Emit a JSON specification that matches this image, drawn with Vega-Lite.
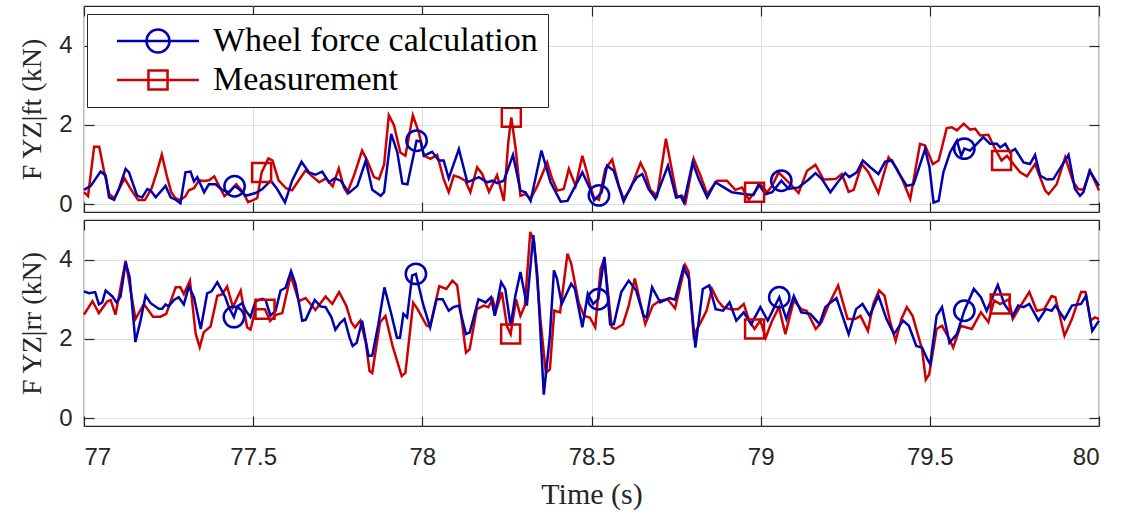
{
"$schema": "https://vega.github.io/schema/vega-lite/v6.json",
"padding": {"left": 18, "top": 4, "right": 12, "bottom": 4},
"background": "white",
"config": {
  "view": {"stroke": "#262626", "strokeWidth": 1.2},
  "axis": {"labelFont": "Liberation Sans", "labelFontSize": 24, "labelColor": "#262626", "titleFont": "Liberation Serif", "titleFontWeight": "normal", "titleColor": "#262626", "gridColor": "#dedede", "gridWidth": 1, "domain": false, "tickColor": "#262626", "tickSize": -10, "tickWidth": 1.2}
},
"datasets": {
"d": [
{"p":"f","s":"M","t":77.0,"v":0.3},{"p":"f","s":"M","t":77.012,"v":0.2},{"p":"f","s":"M","t":77.03,"v":1.45},{"p":"f","s":"M","t":77.045,"v":1.45},{"p":"f","s":"M","t":77.06,"v":0.8},{"p":"f","s":"M","t":77.075,"v":0.25},{"p":"f","s":"M","t":77.09,"v":0.15},{"p":"f","s":"M","t":77.105,"v":0.4},{"p":"f","s":"M","t":77.12,"v":0.65},{"p":"f","s":"M","t":77.14,"v":0.35},{"p":"f","s":"M","t":77.16,"v":0.1},{"p":"f","s":"M","t":77.18,"v":0.1},{"p":"f","s":"M","t":77.2,"v":0.4},{"p":"f","s":"M","t":77.215,"v":0.8},{"p":"f","s":"M","t":77.23,"v":1.25},{"p":"f","s":"M","t":77.245,"v":0.7},{"p":"f","s":"M","t":77.258,"v":0.3},{"p":"f","s":"M","t":77.27,"v":0.15},{"p":"f","s":"M","t":77.285,"v":0.1},{"p":"f","s":"M","t":77.3,"v":0.2},{"p":"f","s":"M","t":77.31,"v":0.35},{"p":"f","s":"M","t":77.325,"v":0.4},{"p":"f","s":"M","t":77.34,"v":0.6},{"p":"f","s":"M","t":77.355,"v":0.58},{"p":"f","s":"M","t":77.37,"v":0.6},{"p":"f","s":"M","t":77.385,"v":0.7},{"p":"f","s":"M","t":77.4,"v":0.45},{"p":"f","s":"M","t":77.415,"v":0.2},{"p":"f","s":"M","t":77.43,"v":0.3},{"p":"f","s":"M","t":77.45,"v":0.5},{"p":"f","s":"M","t":77.47,"v":0.3},{"p":"f","s":"M","t":77.485,"v":0.05},{"p":"f","s":"M","t":77.5,"v":0.1},{"p":"f","s":"M","t":77.512,"v":0.15},{"p":"f","s":"M","t":77.525,"v":0.8,"m":1},{"p":"f","s":"M","t":77.545,"v":1.15},{"p":"f","s":"M","t":77.557,"v":1.1},{"p":"f","s":"M","t":77.575,"v":0.6},{"p":"f","s":"M","t":77.597,"v":0.4},{"p":"f","s":"M","t":77.615,"v":0.35},{"p":"f","s":"M","t":77.635,"v":0.6},{"p":"f","s":"M","t":77.655,"v":0.85},{"p":"f","s":"M","t":77.675,"v":0.7},{"p":"f","s":"M","t":77.695,"v":0.55},{"p":"f","s":"M","t":77.715,"v":0.65},{"p":"f","s":"M","t":77.735,"v":0.45},{"p":"f","s":"M","t":77.753,"v":0.9},{"p":"f","s":"M","t":77.768,"v":0.42},{"p":"f","s":"M","t":77.778,"v":0.28},{"p":"f","s":"M","t":77.798,"v":0.72},{"p":"f","s":"M","t":77.822,"v":1.35},{"p":"f","s":"M","t":77.837,"v":1.1},{"p":"f","s":"M","t":77.857,"v":0.68},{"p":"f","s":"M","t":77.872,"v":0.63},{"p":"f","s":"M","t":77.887,"v":1.0},{"p":"f","s":"M","t":77.901,"v":2.24},{"p":"f","s":"M","t":77.916,"v":2.0},{"p":"f","s":"M","t":77.935,"v":1.3},{"p":"f","s":"M","t":77.95,"v":1.22},{"p":"f","s":"M","t":77.972,"v":2.24},{"p":"f","s":"M","t":77.99,"v":1.8},{"p":"f","s":"M","t":78.004,"v":1.22},{"p":"f","s":"M","t":78.024,"v":1.14},{"p":"f","s":"M","t":78.044,"v":1.24},{"p":"f","s":"M","t":78.063,"v":0.63},{"p":"f","s":"M","t":78.078,"v":0.3},{"p":"f","s":"M","t":78.093,"v":0.72},{"p":"f","s":"M","t":78.108,"v":0.68},{"p":"f","s":"M","t":78.127,"v":0.59},{"p":"f","s":"M","t":78.142,"v":0.3},{"p":"f","s":"M","t":78.162,"v":0.93},{"p":"f","s":"M","t":78.177,"v":0.76},{"p":"f","s":"M","t":78.197,"v":0.31},{"p":"f","s":"M","t":78.221,"v":0.73},{"p":"f","s":"M","t":78.241,"v":0.08},{"p":"f","s":"M","t":78.254,"v":1.56},{"p":"f","s":"M","t":78.263,"v":2.19,"m":1},{"p":"f","s":"M","t":78.276,"v":1.39},{"p":"f","s":"M","t":78.29,"v":0.21},{"p":"f","s":"M","t":78.305,"v":0.25},{"p":"f","s":"M","t":78.32,"v":0.13},{"p":"f","s":"M","t":78.34,"v":0.46},{"p":"f","s":"M","t":78.369,"v":1.05},{"p":"f","s":"M","t":78.384,"v":0.63},{"p":"f","s":"M","t":78.399,"v":0.34},{"p":"f","s":"M","t":78.418,"v":0.38},{"p":"f","s":"M","t":78.433,"v":0.89},{"p":"f","s":"M","t":78.453,"v":0.46},{"p":"f","s":"M","t":78.473,"v":1.22},{"p":"f","s":"M","t":78.488,"v":0.76},{"p":"f","s":"M","t":78.495,"v":0.5},{"p":"f","s":"M","t":78.507,"v":0.17},{"p":"f","s":"M","t":78.522,"v":0.11},{"p":"f","s":"M","t":78.541,"v":0.89},{"p":"f","s":"M","t":78.561,"v":1.12},{"p":"f","s":"M","t":78.581,"v":0.46},{"p":"f","s":"M","t":78.595,"v":0.13},{"p":"f","s":"M","t":78.615,"v":0.38},{"p":"f","s":"M","t":78.645,"v":1.04},{"p":"f","s":"M","t":78.659,"v":0.8},{"p":"f","s":"M","t":78.674,"v":0.36},{"p":"f","s":"M","t":78.694,"v":0.21},{"p":"f","s":"M","t":78.72,"v":1.65},{"p":"f","s":"M","t":78.736,"v":0.93},{"p":"f","s":"M","t":78.753,"v":0.17},{"p":"f","s":"M","t":78.768,"v":0.21},{"p":"f","s":"M","t":78.778,"v":0.04},{"p":"f","s":"M","t":78.802,"v":1.14},{"p":"f","s":"M","t":78.822,"v":0.72},{"p":"f","s":"M","t":78.842,"v":0.25},{"p":"f","s":"M","t":78.871,"v":0.59},{"p":"f","s":"M","t":78.9,"v":0.59},{"p":"f","s":"M","t":78.925,"v":0.36},{"p":"f","s":"M","t":78.945,"v":0.42},{"p":"f","s":"M","t":78.965,"v":0.11},{"p":"f","s":"M","t":78.982,"v":0.3,"m":1},{"p":"f","s":"M","t":78.999,"v":0.5},{"p":"f","s":"M","t":79.019,"v":0.3},{"p":"f","s":"M","t":79.034,"v":0.46},{"p":"f","s":"M","t":79.053,"v":0.8},{"p":"f","s":"M","t":79.073,"v":0.63},{"p":"f","s":"M","t":79.093,"v":0.46},{"p":"f","s":"M","t":79.112,"v":0.28},{"p":"f","s":"M","t":79.137,"v":0.84},{"p":"f","s":"M","t":79.162,"v":0.99},{"p":"f","s":"M","t":79.186,"v":0.62},{"p":"f","s":"M","t":79.221,"v":0.63},{"p":"f","s":"M","t":79.24,"v":0.76},{"p":"f","s":"M","t":79.26,"v":0.31},{"p":"f","s":"M","t":79.275,"v":0.36},{"p":"f","s":"M","t":79.299,"v":1.01},{"p":"f","s":"M","t":79.319,"v":0.8},{"p":"f","s":"M","t":79.348,"v":0.28},{"p":"f","s":"M","t":79.378,"v":1.18},{"p":"f","s":"M","t":79.403,"v":0.89},{"p":"f","s":"M","t":79.422,"v":0.55},{"p":"f","s":"M","t":79.442,"v":0.13},{"p":"f","s":"M","t":79.471,"v":1.52},{"p":"f","s":"M","t":79.486,"v":1.48},{"p":"f","s":"M","t":79.509,"v":1.01},{"p":"f","s":"M","t":79.526,"v":1.1},{"p":"f","s":"M","t":79.55,"v":1.92},{"p":"f","s":"M","t":79.565,"v":1.94},{"p":"f","s":"M","t":79.58,"v":1.86},{"p":"f","s":"M","t":79.6,"v":2.03},{"p":"f","s":"M","t":79.619,"v":1.88},{"p":"f","s":"M","t":79.634,"v":1.9},{"p":"f","s":"M","t":79.649,"v":1.73},{"p":"f","s":"M","t":79.673,"v":1.75},{"p":"f","s":"M","t":79.693,"v":1.39},{"p":"f","s":"M","t":79.712,"v":1.1,"m":1},{"p":"f","s":"M","t":79.728,"v":1.22},{"p":"f","s":"M","t":79.747,"v":1.01},{"p":"f","s":"M","t":79.767,"v":0.8},{"p":"f","s":"M","t":79.787,"v":0.7},{"p":"f","s":"M","t":79.811,"v":1.01},{"p":"f","s":"M","t":79.841,"v":0.34},{"p":"f","s":"M","t":79.851,"v":0.25},{"p":"f","s":"M","t":79.875,"v":0.5},{"p":"f","s":"M","t":79.9,"v":1.18},{"p":"f","s":"M","t":79.924,"v":0.55},{"p":"f","s":"M","t":79.939,"v":0.38},{"p":"f","s":"M","t":79.954,"v":0.36},{"p":"f","s":"M","t":79.974,"v":0.84},{"p":"f","s":"M","t":80.0,"v":0.34},
{"p":"f","s":"W","t":77.0,"v":0.36},{"p":"f","s":"W","t":77.02,"v":0.46},{"p":"f","s":"W","t":77.049,"v":0.82},{"p":"f","s":"W","t":77.064,"v":0.72},{"p":"f","s":"W","t":77.074,"v":0.17},{"p":"f","s":"W","t":77.089,"v":0.11},{"p":"f","s":"W","t":77.103,"v":0.38},{"p":"f","s":"W","t":77.123,"v":0.89},{"p":"f","s":"W","t":77.133,"v":0.8},{"p":"f","s":"W","t":77.157,"v":0.21},{"p":"f","s":"W","t":77.172,"v":0.17},{"p":"f","s":"W","t":77.187,"v":0.38},{"p":"f","s":"W","t":77.197,"v":0.34},{"p":"f","s":"W","t":77.212,"v":0.17},{"p":"f","s":"W","t":77.241,"v":0.46},{"p":"f","s":"W","t":77.256,"v":0.17},{"p":"f","s":"W","t":77.271,"v":0.11},{"p":"f","s":"W","t":77.285,"v":0.02},{"p":"f","s":"W","t":77.3,"v":0.8},{"p":"f","s":"W","t":77.315,"v":0.82},{"p":"f","s":"W","t":77.325,"v":0.57},{"p":"f","s":"W","t":77.335,"v":0.68},{"p":"f","s":"W","t":77.355,"v":0.3},{"p":"f","s":"W","t":77.369,"v":0.5},{"p":"f","s":"W","t":77.389,"v":0.5},{"p":"f","s":"W","t":77.408,"v":0.36},{"p":"f","s":"W","t":77.428,"v":0.3},{"p":"f","s":"W","t":77.445,"v":0.45,"m":1},{"p":"f","s":"W","t":77.458,"v":0.38},{"p":"f","s":"W","t":77.478,"v":0.21},{"p":"f","s":"W","t":77.507,"v":0.28},{"p":"f","s":"W","t":77.527,"v":0.38},{"p":"f","s":"W","t":77.552,"v":0.59},{"p":"f","s":"W","t":77.571,"v":0.38},{"p":"f","s":"W","t":77.594,"v":0.04},{"p":"f","s":"W","t":77.615,"v":0.59},{"p":"f","s":"W","t":77.643,"v":1.07},{"p":"f","s":"W","t":77.665,"v":0.8},{"p":"f","s":"W","t":77.684,"v":0.74},{"p":"f","s":"W","t":77.704,"v":0.82},{"p":"f","s":"W","t":77.724,"v":0.55},{"p":"f","s":"W","t":77.741,"v":0.65},{"p":"f","s":"W","t":77.759,"v":0.59},{"p":"f","s":"W","t":77.783,"v":0.28},{"p":"f","s":"W","t":77.808,"v":0.46},{"p":"f","s":"W","t":77.833,"v":1.1},{"p":"f","s":"W","t":77.852,"v":0.36},{"p":"f","s":"W","t":77.877,"v":0.21},{"p":"f","s":"W","t":77.887,"v":0.3},{"p":"f","s":"W","t":77.908,"v":1.77},{"p":"f","s":"W","t":77.926,"v":1.31},{"p":"f","s":"W","t":77.941,"v":0.52},{"p":"f","s":"W","t":77.956,"v":0.5},{"p":"f","s":"W","t":77.983,"v":1.6,"m":1},{"p":"f","s":"W","t":77.995,"v":1.58},{"p":"f","s":"W","t":78.005,"v":1.22},{"p":"f","s":"W","t":78.029,"v":1.32},{"p":"f","s":"W","t":78.049,"v":1.1},{"p":"f","s":"W","t":78.063,"v":1.1},{"p":"f","s":"W","t":78.078,"v":0.65},{"p":"f","s":"W","t":78.108,"v":1.39},{"p":"f","s":"W","t":78.133,"v":0.55},{"p":"f","s":"W","t":78.167,"v":0.68},{"p":"f","s":"W","t":78.192,"v":0.55},{"p":"f","s":"W","t":78.207,"v":0.59},{"p":"f","s":"W","t":78.221,"v":0.53},{"p":"f","s":"W","t":78.241,"v":0.59},{"p":"f","s":"W","t":78.268,"v":1.24},{"p":"f","s":"W","t":78.29,"v":0.34},{"p":"f","s":"W","t":78.305,"v":0.3},{"p":"f","s":"W","t":78.32,"v":0.08},{"p":"f","s":"W","t":78.352,"v":1.35},{"p":"f","s":"W","t":78.379,"v":0.55},{"p":"f","s":"W","t":78.409,"v":0.06},{"p":"f","s":"W","t":78.429,"v":0.08},{"p":"f","s":"W","t":78.473,"v":0.8},{"p":"f","s":"W","t":78.495,"v":0.4},{"p":"f","s":"W","t":78.508,"v":0.1},{"p":"f","s":"W","t":78.522,"v":0.22,"m":1},{"p":"f","s":"W","t":78.53,"v":0.3},{"p":"f","s":"W","t":78.546,"v":0.97},{"p":"f","s":"W","t":78.566,"v":0.84},{"p":"f","s":"W","t":78.595,"v":0.06},{"p":"f","s":"W","t":78.62,"v":0.5},{"p":"f","s":"W","t":78.635,"v":0.68},{"p":"f","s":"W","t":78.65,"v":0.76},{"p":"f","s":"W","t":78.669,"v":0.38},{"p":"f","s":"W","t":78.689,"v":0.14},{"p":"f","s":"W","t":78.726,"v":0.97},{"p":"f","s":"W","t":78.75,"v":0.17},{"p":"f","s":"W","t":78.763,"v":0.21},{"p":"f","s":"W","t":78.773,"v":0.04},{"p":"f","s":"W","t":78.799,"v":1.05},{"p":"f","s":"W","t":78.817,"v":0.63},{"p":"f","s":"W","t":78.842,"v":0.17},{"p":"f","s":"W","t":78.866,"v":0.55},{"p":"f","s":"W","t":78.891,"v":0.42},{"p":"f","s":"W","t":78.915,"v":0.3},{"p":"f","s":"W","t":78.955,"v":0.25},{"p":"f","s":"W","t":78.979,"v":0.23},{"p":"f","s":"W","t":78.994,"v":0.5},{"p":"f","s":"W","t":79.014,"v":0.25},{"p":"f","s":"W","t":79.034,"v":0.3},{"p":"f","s":"W","t":79.061,"v":0.59,"m":1},{"p":"f","s":"W","t":79.083,"v":0.38},{"p":"f","s":"W","t":79.112,"v":0.42},{"p":"f","s":"W","t":79.142,"v":0.62},{"p":"f","s":"W","t":79.162,"v":0.78},{"p":"f","s":"W","t":79.181,"v":0.63},{"p":"f","s":"W","t":79.206,"v":0.3},{"p":"f","s":"W","t":79.231,"v":0.59},{"p":"f","s":"W","t":79.25,"v":0.78},{"p":"f","s":"W","t":79.262,"v":0.68},{"p":"f","s":"W","t":79.284,"v":0.8},{"p":"f","s":"W","t":79.302,"v":1.1},{"p":"f","s":"W","t":79.324,"v":0.93},{"p":"f","s":"W","t":79.348,"v":0.76},{"p":"f","s":"W","t":79.368,"v":1.07},{"p":"f","s":"W","t":79.388,"v":1.1},{"p":"f","s":"W","t":79.407,"v":0.8},{"p":"f","s":"W","t":79.432,"v":0.46},{"p":"f","s":"W","t":79.452,"v":0.5},{"p":"f","s":"W","t":79.486,"v":1.39},{"p":"f","s":"W","t":79.499,"v":0.93},{"p":"f","s":"W","t":79.511,"v":0.04},{"p":"f","s":"W","t":79.526,"v":0.08},{"p":"f","s":"W","t":79.54,"v":0.8},{"p":"f","s":"W","t":79.56,"v":1.31},{"p":"f","s":"W","t":79.58,"v":1.6},{"p":"f","s":"W","t":79.593,"v":1.22},{"p":"f","s":"W","t":79.602,"v":1.4,"m":1},{"p":"f","s":"W","t":79.619,"v":1.35},{"p":"f","s":"W","t":79.639,"v":1.52},{"p":"f","s":"W","t":79.658,"v":1.69},{"p":"f","s":"W","t":79.678,"v":1.52},{"p":"f","s":"W","t":79.698,"v":1.52},{"p":"f","s":"W","t":79.708,"v":1.43},{"p":"f","s":"W","t":79.723,"v":1.52},{"p":"f","s":"W","t":79.737,"v":1.31},{"p":"f","s":"W","t":79.752,"v":1.39},{"p":"f","s":"W","t":79.777,"v":1.05},{"p":"f","s":"W","t":79.796,"v":1.01},{"p":"f","s":"W","t":79.811,"v":1.24},{"p":"f","s":"W","t":79.826,"v":0.72},{"p":"f","s":"W","t":79.846,"v":0.62},{"p":"f","s":"W","t":79.865,"v":0.63},{"p":"f","s":"W","t":79.89,"v":0.97},{"p":"f","s":"W","t":79.91,"v":1.24},{"p":"f","s":"W","t":79.929,"v":0.38},{"p":"f","s":"W","t":79.944,"v":0.21},{"p":"f","s":"W","t":79.954,"v":0.3},{"p":"f","s":"W","t":79.972,"v":0.84},{"p":"f","s":"W","t":80.0,"v":0.46},
{"p":"r","s":"M","t":77.0,"v":2.61},{"p":"r","s":"M","t":77.025,"v":2.95},{"p":"r","s":"M","t":77.044,"v":2.65},{"p":"r","s":"M","t":77.069,"v":2.95},{"p":"r","s":"M","t":77.079,"v":2.98},{"p":"r","s":"M","t":77.093,"v":2.61},{"p":"r","s":"M","t":77.123,"v":3.97},{"p":"r","s":"M","t":77.152,"v":2.5},{"p":"r","s":"M","t":77.177,"v":2.88},{"p":"r","s":"M","t":77.204,"v":2.56},{"p":"r","s":"M","t":77.226,"v":2.56},{"p":"r","s":"M","t":77.243,"v":2.63},{"p":"r","s":"M","t":77.271,"v":3.3},{"p":"r","s":"M","t":77.285,"v":3.3},{"p":"r","s":"M","t":77.295,"v":3.13},{"p":"r","s":"M","t":77.313,"v":3.47},{"p":"r","s":"M","t":77.33,"v":2.13},{"p":"r","s":"M","t":77.342,"v":1.79},{"p":"r","s":"M","t":77.354,"v":2.17},{"p":"r","s":"M","t":77.374,"v":2.31},{"p":"r","s":"M","t":77.394,"v":3.09},{"p":"r","s":"M","t":77.408,"v":3.12},{"p":"r","s":"M","t":77.423,"v":3.32},{"p":"r","s":"M","t":77.44,"v":2.8},{"p":"r","s":"M","t":77.463,"v":3.22},{"p":"r","s":"M","t":77.482,"v":2.29},{"p":"r","s":"M","t":77.492,"v":2.23},{"p":"r","s":"M","t":77.507,"v":2.75},{"p":"r","s":"M","t":77.535,"v":2.75,"m":1},{"p":"r","s":"M","t":77.55,"v":2.45},{"p":"r","s":"M","t":77.566,"v":2.6},{"p":"r","s":"M","t":77.586,"v":2.65},{"p":"r","s":"M","t":77.611,"v":3.6},{"p":"r","s":"M","t":77.635,"v":2.95},{"p":"r","s":"M","t":77.655,"v":3.03},{"p":"r","s":"M","t":77.684,"v":2.73},{"p":"r","s":"M","t":77.714,"v":3.07},{"p":"r","s":"M","t":77.734,"v":2.88},{"p":"r","s":"M","t":77.754,"v":3.18},{"p":"r","s":"M","t":77.775,"v":2.84},{"p":"r","s":"M","t":77.79,"v":2.42},{"p":"r","s":"M","t":77.801,"v":2.29},{"p":"r","s":"M","t":77.817,"v":2.46},{"p":"r","s":"M","t":77.833,"v":1.9},{"p":"r","s":"M","t":77.844,"v":1.19},{"p":"r","s":"M","t":77.852,"v":1.14},{"p":"r","s":"M","t":77.875,"v":2.42},{"p":"r","s":"M","t":77.891,"v":2.58},{"p":"r","s":"M","t":77.912,"v":1.82},{"p":"r","s":"M","t":77.939,"v":1.06},{"p":"r","s":"M","t":77.95,"v":1.14},{"p":"r","s":"M","t":77.973,"v":2.91},{"p":"r","s":"M","t":77.986,"v":2.75},{"p":"r","s":"M","t":78.013,"v":2.33},{"p":"r","s":"M","t":78.023,"v":2.31},{"p":"r","s":"M","t":78.05,"v":3.33},{"p":"r","s":"M","t":78.071,"v":3.26},{"p":"r","s":"M","t":78.089,"v":3.47},{"p":"r","s":"M","t":78.103,"v":3.35},{"p":"r","s":"M","t":78.129,"v":1.65},{"p":"r","s":"M","t":78.14,"v":1.74},{"p":"r","s":"M","t":78.161,"v":2.75},{"p":"r","s":"M","t":78.182,"v":2.84},{"p":"r","s":"M","t":78.195,"v":2.8},{"p":"r","s":"M","t":78.208,"v":3.0},{"p":"r","s":"M","t":78.218,"v":2.71},{"p":"r","s":"M","t":78.235,"v":3.18},{"p":"r","s":"M","t":78.25,"v":2.33},{"p":"r","s":"M","t":78.261,"v":2.12,"m":1},{"p":"r","s":"M","t":78.277,"v":3.0},{"p":"r","s":"M","t":78.29,"v":2.58},{"p":"r","s":"M","t":78.303,"v":2.84},{"p":"r","s":"M","t":78.319,"v":4.7},{"p":"r","s":"M","t":78.33,"v":4.45},{"p":"r","s":"M","t":78.349,"v":2.5},{"p":"r","s":"M","t":78.365,"v":1.14},{"p":"r","s":"M","t":78.377,"v":1.23},{"p":"r","s":"M","t":78.39,"v":2.71},{"p":"r","s":"M","t":78.407,"v":2.67},{"p":"r","s":"M","t":78.429,"v":4.15},{"p":"r","s":"M","t":78.44,"v":3.9},{"p":"r","s":"M","t":78.462,"v":2.92},{"p":"r","s":"M","t":78.478,"v":2.58},{"p":"r","s":"M","t":78.495,"v":2.54},{"p":"r","s":"M","t":78.511,"v":2.29},{"p":"r","s":"M","t":78.527,"v":3.77},{"p":"r","s":"M","t":78.538,"v":4.03},{"p":"r","s":"M","t":78.56,"v":2.29},{"p":"r","s":"M","t":78.571,"v":2.25},{"p":"r","s":"M","t":78.593,"v":2.37},{"p":"r","s":"M","t":78.61,"v":2.84},{"p":"r","s":"M","t":78.628,"v":3.52},{"p":"r","s":"M","t":78.659,"v":2.37},{"p":"r","s":"M","t":78.681,"v":2.84},{"p":"r","s":"M","t":78.703,"v":2.97},{"p":"r","s":"M","t":78.725,"v":3.0},{"p":"r","s":"M","t":78.747,"v":2.77},{"p":"r","s":"M","t":78.777,"v":3.86},{"p":"r","s":"M","t":78.787,"v":3.69},{"p":"r","s":"M","t":78.802,"v":2.08},{"p":"r","s":"M","t":78.823,"v":2.42},{"p":"r","s":"M","t":78.84,"v":2.71},{"p":"r","s":"M","t":78.856,"v":3.26},{"p":"r","s":"M","t":78.873,"v":2.97},{"p":"r","s":"M","t":78.889,"v":2.8},{"p":"r","s":"M","t":78.911,"v":2.75},{"p":"r","s":"M","t":78.933,"v":2.75},{"p":"r","s":"M","t":78.95,"v":2.88},{"p":"r","s":"M","t":78.966,"v":2.46},{"p":"r","s":"M","t":78.982,"v":2.25,"m":1},{"p":"r","s":"M","t":78.999,"v":2.46},{"p":"r","s":"M","t":79.015,"v":2.03},{"p":"r","s":"M","t":79.032,"v":2.42},{"p":"r","s":"M","t":79.054,"v":2.8},{"p":"r","s":"M","t":79.073,"v":2.12},{"p":"r","s":"M","t":79.098,"v":2.97},{"p":"r","s":"M","t":79.12,"v":2.75},{"p":"r","s":"M","t":79.136,"v":2.71},{"p":"r","s":"M","t":79.163,"v":2.25},{"p":"r","s":"M","t":79.18,"v":2.42},{"p":"r","s":"M","t":79.202,"v":2.88},{"p":"r","s":"M","t":79.229,"v":3.35},{"p":"r","s":"M","t":79.257,"v":2.5},{"p":"r","s":"M","t":79.279,"v":2.5},{"p":"r","s":"M","t":79.295,"v":2.58},{"p":"r","s":"M","t":79.317,"v":2.2},{"p":"r","s":"M","t":79.333,"v":2.88},{"p":"r","s":"M","t":79.35,"v":3.22},{"p":"r","s":"M","t":79.366,"v":3.09},{"p":"r","s":"M","t":79.383,"v":2.42},{"p":"r","s":"M","t":79.399,"v":1.95},{"p":"r","s":"M","t":79.416,"v":2.5},{"p":"r","s":"M","t":79.432,"v":2.8},{"p":"r","s":"M","t":79.449,"v":2.58},{"p":"r","s":"M","t":79.477,"v":1.74},{"p":"r","s":"M","t":79.488,"v":0.97},{"p":"r","s":"M","t":79.498,"v":1.1},{"p":"r","s":"M","t":79.52,"v":2.25},{"p":"r","s":"M","t":79.536,"v":2.33},{"p":"r","s":"M","t":79.558,"v":1.99},{"p":"r","s":"M","t":79.569,"v":1.78},{"p":"r","s":"M","t":79.591,"v":2.33},{"p":"r","s":"M","t":79.624,"v":2.25},{"p":"r","s":"M","t":79.651,"v":2.67},{"p":"r","s":"M","t":79.673,"v":2.42},{"p":"r","s":"M","t":79.69,"v":2.97},{"p":"r","s":"M","t":79.708,"v":2.88,"m":1},{"p":"r","s":"M","t":79.734,"v":3.0},{"p":"r","s":"M","t":79.745,"v":2.5},{"p":"r","s":"M","t":79.766,"v":2.8},{"p":"r","s":"M","t":79.794,"v":3.18},{"p":"r","s":"M","t":79.816,"v":2.71},{"p":"r","s":"M","t":79.838,"v":2.75},{"p":"r","s":"M","t":79.86,"v":3.08},{"p":"r","s":"M","t":79.871,"v":3.05},{"p":"r","s":"M","t":79.898,"v":2.08},{"p":"r","s":"M","t":79.92,"v":2.5},{"p":"r","s":"M","t":79.947,"v":3.18},{"p":"r","s":"M","t":79.96,"v":3.18},{"p":"r","s":"M","t":79.975,"v":2.46},{"p":"r","s":"M","t":79.988,"v":2.54},{"p":"r","s":"M","t":80.0,"v":2.5},
{"p":"r","s":"W","t":77.0,"v":3.2},{"p":"r","s":"W","t":77.015,"v":3.15},{"p":"r","s":"W","t":77.033,"v":3.18},{"p":"r","s":"W","t":77.044,"v":2.87},{"p":"r","s":"W","t":77.054,"v":2.92},{"p":"r","s":"W","t":77.064,"v":3.22},{"p":"r","s":"W","t":77.084,"v":3.07},{"p":"r","s":"W","t":77.096,"v":2.92},{"p":"r","s":"W","t":77.108,"v":3.07},{"p":"r","s":"W","t":77.123,"v":3.93},{"p":"r","s":"W","t":77.135,"v":3.55},{"p":"r","s":"W","t":77.152,"v":1.92},{"p":"r","s":"W","t":77.167,"v":2.46},{"p":"r","s":"W","t":77.182,"v":3.09},{"p":"r","s":"W","t":77.197,"v":2.9},{"p":"r","s":"W","t":77.221,"v":2.76},{"p":"r","s":"W","t":77.231,"v":2.76},{"p":"r","s":"W","t":77.241,"v":2.87},{"p":"r","s":"W","t":77.25,"v":2.82},{"p":"r","s":"W","t":77.266,"v":2.98},{"p":"r","s":"W","t":77.28,"v":3.05},{"p":"r","s":"W","t":77.295,"v":2.87},{"p":"r","s":"W","t":77.31,"v":3.32},{"p":"r","s":"W","t":77.325,"v":3.05},{"p":"r","s":"W","t":77.345,"v":2.25},{"p":"r","s":"W","t":77.364,"v":3.15},{"p":"r","s":"W","t":77.377,"v":3.2},{"p":"r","s":"W","t":77.394,"v":3.43},{"p":"r","s":"W","t":77.418,"v":3.05},{"p":"r","s":"W","t":77.428,"v":2.8},{"p":"r","s":"W","t":77.443,"v":2.55,"m":1},{"p":"r","s":"W","t":77.453,"v":2.82},{"p":"r","s":"W","t":77.468,"v":2.9},{"p":"r","s":"W","t":77.478,"v":2.71},{"p":"r","s":"W","t":77.492,"v":2.55},{"p":"r","s":"W","t":77.507,"v":2.95},{"p":"r","s":"W","t":77.527,"v":3.01},{"p":"r","s":"W","t":77.537,"v":2.97},{"p":"r","s":"W","t":77.551,"v":2.59},{"p":"r","s":"W","t":77.566,"v":2.7},{"p":"r","s":"W","t":77.581,"v":3.22},{"p":"r","s":"W","t":77.596,"v":3.29},{"p":"r","s":"W","t":77.612,"v":3.71},{"p":"r","s":"W","t":77.625,"v":3.39},{"p":"r","s":"W","t":77.645,"v":2.46},{"p":"r","s":"W","t":77.655,"v":2.48},{"p":"r","s":"W","t":77.682,"v":2.98},{"p":"r","s":"W","t":77.699,"v":2.82},{"p":"r","s":"W","t":77.714,"v":2.8},{"p":"r","s":"W","t":77.731,"v":2.55},{"p":"r","s":"W","t":77.743,"v":2.23},{"p":"r","s":"W","t":77.757,"v":2.4},{"p":"r","s":"W","t":77.77,"v":2.5},{"p":"r","s":"W","t":77.785,"v":2.03},{"p":"r","s":"W","t":77.794,"v":1.82},{"p":"r","s":"W","t":77.806,"v":1.9},{"p":"r","s":"W","t":77.822,"v":2.46},{"p":"r","s":"W","t":77.841,"v":1.57},{"p":"r","s":"W","t":77.852,"v":1.58},{"p":"r","s":"W","t":77.87,"v":2.37},{"p":"r","s":"W","t":77.888,"v":3.3},{"p":"r","s":"W","t":77.907,"v":2.67},{"p":"r","s":"W","t":77.925,"v":2.03},{"p":"r","s":"W","t":77.934,"v":2.03},{"p":"r","s":"W","t":77.944,"v":2.63},{"p":"r","s":"W","t":77.955,"v":2.54},{"p":"r","s":"W","t":77.97,"v":3.6},{"p":"r","s":"W","t":77.981,"v":3.64,"m":1},{"p":"r","s":"W","t":78.002,"v":2.88},{"p":"r","s":"W","t":78.023,"v":2.29},{"p":"r","s":"W","t":78.042,"v":3.0},{"p":"r","s":"W","t":78.06,"v":3.0},{"p":"r","s":"W","t":78.078,"v":2.71},{"p":"r","s":"W","t":78.092,"v":2.8},{"p":"r","s":"W","t":78.108,"v":2.84},{"p":"r","s":"W","t":78.129,"v":2.12},{"p":"r","s":"W","t":78.14,"v":2.16},{"p":"r","s":"W","t":78.166,"v":3.0},{"p":"r","s":"W","t":78.187,"v":2.92},{"p":"r","s":"W","t":78.203,"v":3.05},{"p":"r","s":"W","t":78.214,"v":2.58},{"p":"r","s":"W","t":78.233,"v":3.43},{"p":"r","s":"W","t":78.245,"v":3.26},{"p":"r","s":"W","t":78.261,"v":2.33},{"p":"r","s":"W","t":78.275,"v":3.09},{"p":"r","s":"W","t":78.29,"v":3.69},{"p":"r","s":"W","t":78.309,"v":2.84},{"p":"r","s":"W","t":78.328,"v":4.62},{"p":"r","s":"W","t":78.34,"v":3.6},{"p":"r","s":"W","t":78.359,"v":0.59},{"p":"r","s":"W","t":78.377,"v":2.08},{"p":"r","s":"W","t":78.389,"v":3.73},{"p":"r","s":"W","t":78.398,"v":3.52},{"p":"r","s":"W","t":78.412,"v":2.88},{"p":"r","s":"W","t":78.44,"v":3.39},{"p":"r","s":"W","t":78.451,"v":3.26},{"p":"r","s":"W","t":78.473,"v":2.29},{"p":"r","s":"W","t":78.489,"v":3.14},{"p":"r","s":"W","t":78.505,"v":2.88},{"p":"r","s":"W","t":78.52,"v":3.0,"m":1},{"p":"r","s":"W","t":78.538,"v":4.07},{"p":"r","s":"W","t":78.555,"v":2.37},{"p":"r","s":"W","t":78.566,"v":2.37},{"p":"r","s":"W","t":78.588,"v":3.18},{"p":"r","s":"W","t":78.61,"v":3.47},{"p":"r","s":"W","t":78.632,"v":3.22},{"p":"r","s":"W","t":78.654,"v":2.58},{"p":"r","s":"W","t":78.663,"v":2.54},{"p":"r","s":"W","t":78.679,"v":3.3},{"p":"r","s":"W","t":78.703,"v":2.92},{"p":"r","s":"W","t":78.73,"v":3.03},{"p":"r","s":"W","t":78.747,"v":2.99},{"p":"r","s":"W","t":78.772,"v":3.81},{"p":"r","s":"W","t":78.788,"v":3.52},{"p":"r","s":"W","t":78.807,"v":1.78},{"p":"r","s":"W","t":78.829,"v":3.26},{"p":"r","s":"W","t":78.848,"v":3.35},{"p":"r","s":"W","t":78.867,"v":2.75},{"p":"r","s":"W","t":78.889,"v":2.71},{"p":"r","s":"W","t":78.908,"v":2.92},{"p":"r","s":"W","t":78.928,"v":2.46},{"p":"r","s":"W","t":78.95,"v":2.67},{"p":"r","s":"W","t":78.972,"v":2.37},{"p":"r","s":"W","t":78.999,"v":2.8},{"p":"r","s":"W","t":79.021,"v":2.46},{"p":"r","s":"W","t":79.055,"v":3.05,"m":1},{"p":"r","s":"W","t":79.076,"v":2.5},{"p":"r","s":"W","t":79.098,"v":3.08},{"p":"r","s":"W","t":79.12,"v":2.67},{"p":"r","s":"W","t":79.147,"v":2.63},{"p":"r","s":"W","t":79.174,"v":2.37},{"p":"r","s":"W","t":79.191,"v":2.8},{"p":"r","s":"W","t":79.207,"v":2.92},{"p":"r","s":"W","t":79.224,"v":3.03},{"p":"r","s":"W","t":79.26,"v":2.12},{"p":"r","s":"W","t":79.282,"v":2.75},{"p":"r","s":"W","t":79.301,"v":2.88},{"p":"r","s":"W","t":79.322,"v":2.58},{"p":"r","s":"W","t":79.348,"v":3.09},{"p":"r","s":"W","t":79.372,"v":2.5},{"p":"r","s":"W","t":79.394,"v":2.12},{"p":"r","s":"W","t":79.421,"v":2.46},{"p":"r","s":"W","t":79.438,"v":2.33},{"p":"r","s":"W","t":79.46,"v":1.82},{"p":"r","s":"W","t":79.477,"v":1.78},{"p":"r","s":"W","t":79.493,"v":1.48},{"p":"r","s":"W","t":79.501,"v":1.36},{"p":"r","s":"W","t":79.52,"v":2.58},{"p":"r","s":"W","t":79.536,"v":2.8},{"p":"r","s":"W","t":79.558,"v":1.9},{"p":"r","s":"W","t":79.58,"v":2.12},{"p":"r","s":"W","t":79.602,"v":2.71,"m":1},{"p":"r","s":"W","t":79.63,"v":3.26},{"p":"r","s":"W","t":79.651,"v":3.05},{"p":"r","s":"W","t":79.668,"v":2.71},{"p":"r","s":"W","t":79.701,"v":3.36},{"p":"r","s":"W","t":79.72,"v":2.88},{"p":"r","s":"W","t":79.745,"v":2.58},{"p":"r","s":"W","t":79.761,"v":2.84},{"p":"r","s":"W","t":79.777,"v":2.8},{"p":"r","s":"W","t":79.794,"v":2.88},{"p":"r","s":"W","t":79.821,"v":2.46},{"p":"r","s":"W","t":79.843,"v":2.75},{"p":"r","s":"W","t":79.86,"v":2.71},{"p":"r","s":"W","t":79.871,"v":2.84},{"p":"r","s":"W","t":79.898,"v":2.5},{"p":"r","s":"W","t":79.92,"v":2.84},{"p":"r","s":"W","t":79.947,"v":2.88},{"p":"r","s":"W","t":79.962,"v":3.09},{"p":"r","s":"W","t":79.98,"v":2.2},{"p":"r","s":"W","t":80.0,"v":2.46}
]
},
"spacing": 1,
"vconcat": [
{
 "width": 1015, "height": 206,
 "data": {"name": "d"},
 "transform": [{"filter": "datum.p == 'f'"}],
 "resolve": {"axis": {"x": "independent", "y": "independent"}},
 "layer": [
  {"transform": [{"filter": "datum.s == 'M'"}],
   "mark": {"type": "line", "strokeWidth": 2.5},
   "encoding": {
    "x": {"field": "t", "type": "quantitative", "scale": {"domain": [77, 80], "nice": false, "zero": false}, "axis": {"orient": "bottom", "values": [77, 77.5, 78, 78.5, 79, 79.5, 80], "labels": false, "title": null, "grid": true}},
    "y": {"field": "v", "type": "quantitative", "scale": {"domain": [-0.2, 5], "nice": false, "zero": false}, "axis": {"orient": "left", "values": [0, 2, 4], "grid": true, "title": "F YZ|ft (kN)", "titleFontSize": 28, "labelPadding": 22, "titlePadding": 12}},
    "color": {"field": "s", "type": "nominal", "scale": {"domain": ["W", "M"], "range": ["#0000B0", "#CC0000"]},
      "legend": {"orient": "none", "legendX": 3, "legendY": 8, "title": null, "direction": "vertical",
        "labelExpr": "datum.value == 'W' ? 'Wheel force calculation' : 'Measurement'",
        "labelFont": "Liberation Serif", "labelFontSize": 34, "labelColor": "#000000", "labelLimit": 600,
        "fillColor": "white", "strokeColor": "#262626", "padding": 10,
        "symbolSize": 529, "symbolStrokeWidth": 2.5, "symbolOffset": 44, "labelOffset": 38, "rowPadding": 5,
        "encode": {"symbols": {"update": {
          "shape": {"signal": "datum.value == 'M' ? 'M-3.56,0H3.56M-0.83,-0.83H0.83V0.83H-0.83Z' : 'M-3.56,0H3.56M-1,0A1,1 0 1,0 1,0A1,1 0 1,0 -1,0Z'"},
          "fill": {"value": "transparent"},
          "strokeWidth": {"value": 2.5}}}}}}
   }},
  {"transform": [{"filter": "datum.s == 'W'"}],
   "mark": {"type": "line", "strokeWidth": 2.5},
   "encoding": {
    "x": {"field": "t", "type": "quantitative", "axis": null},
    "y": {"field": "v", "type": "quantitative", "axis": null},
    "color": {"field": "s", "type": "nominal"}
   }},
  {"transform": [{"filter": "datum.s == 'M' && datum.m == 1"}],
   "mark": {"type": "point", "shape": "square", "size": 361, "filled": false, "strokeWidth": 2.5, "stroke": "#CC0000", "opacity": 1},
   "encoding": {
    "x": {"field": "t", "type": "quantitative", "axis": {"orient": "top", "values": [77, 77.5, 78, 78.5, 79, 79.5, 80], "labels": false, "title": null, "grid": false}},
    "y": {"field": "v", "type": "quantitative", "axis": {"orient": "right", "values": [0, 2, 4], "labels": false, "title": null, "grid": false}}
   }},
  {"transform": [{"filter": "datum.s == 'W' && datum.m == 1"}],
   "mark": {"type": "point", "shape": "circle", "size": 415, "filled": false, "strokeWidth": 2.5, "stroke": "#0000B0", "opacity": 1},
   "encoding": {
    "x": {"field": "t", "type": "quantitative", "axis": null},
    "y": {"field": "v", "type": "quantitative", "axis": null}
   }}
 ]
},
{
 "width": 1015, "height": 206,
 "data": {"name": "d"},
 "transform": [{"filter": "datum.p == 'r'"}],
 "resolve": {"axis": {"x": "independent", "y": "independent"}},
 "layer": [
  {"transform": [{"filter": "datum.s == 'M'"}],
   "mark": {"type": "line", "strokeWidth": 2.5},
   "encoding": {
    "x": {"field": "t", "type": "quantitative", "scale": {"domain": [77, 80], "nice": false, "zero": false}, "axis": {"orient": "bottom", "values": [77, 77.5, 78, 78.5, 79, 79.5, 80], "format": "~g", "grid": true, "title": "Time (s)", "titleFontSize": 30, "labelPadding": 29, "titlePadding": 10}},
    "y": {"field": "v", "type": "quantitative", "scale": {"domain": [-0.2, 5], "nice": false, "zero": false}, "axis": {"orient": "left", "values": [0, 2, 4], "grid": true, "title": "F YZ|rr (kN)", "titleFontSize": 28, "labelPadding": 22, "titlePadding": 12}},
    "color": {"field": "s", "type": "nominal", "scale": {"domain": ["W", "M"], "range": ["#0000B0", "#CC0000"]}, "legend": null}
   }},
  {"transform": [{"filter": "datum.s == 'W'"}],
   "mark": {"type": "line", "strokeWidth": 2.5},
   "encoding": {
    "x": {"field": "t", "type": "quantitative", "axis": null},
    "y": {"field": "v", "type": "quantitative", "axis": null},
    "color": {"field": "s", "type": "nominal", "legend": null}
   }},
  {"transform": [{"filter": "datum.s == 'M' && datum.m == 1"}],
   "mark": {"type": "point", "shape": "square", "size": 361, "filled": false, "strokeWidth": 2.5, "stroke": "#CC0000", "opacity": 1},
   "encoding": {
    "x": {"field": "t", "type": "quantitative", "axis": {"orient": "top", "values": [77, 77.5, 78, 78.5, 79, 79.5, 80], "labels": false, "title": null, "grid": false}},
    "y": {"field": "v", "type": "quantitative", "axis": {"orient": "right", "values": [0, 2, 4], "labels": false, "title": null, "grid": false}}
   }},
  {"transform": [{"filter": "datum.s == 'W' && datum.m == 1"}],
   "mark": {"type": "point", "shape": "circle", "size": 415, "filled": false, "strokeWidth": 2.5, "stroke": "#0000B0", "opacity": 1},
   "encoding": {
    "x": {"field": "t", "type": "quantitative", "axis": null},
    "y": {"field": "v", "type": "quantitative", "axis": null}
   }}
 ]
}
]
}
